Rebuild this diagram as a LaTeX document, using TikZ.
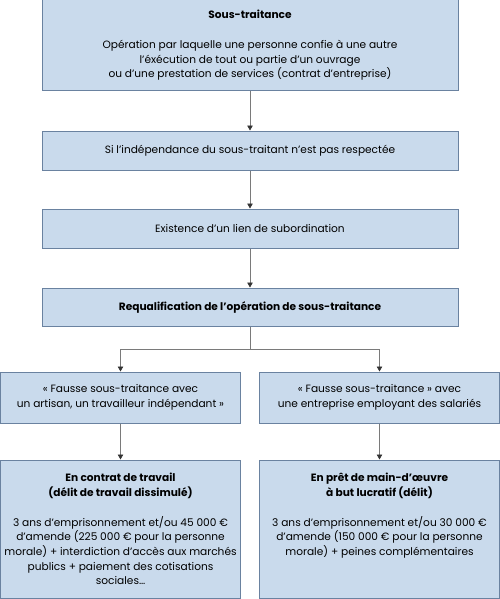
\documentclass[tikz,border=0pt]{standalone}
\usepackage{fontspec}
\setmainfont{Poppins}
\usetikzlibrary{arrows.meta,positioning,calc}
\definecolor{boxfill}{HTML}{C9DAEC}
\definecolor{boxline}{HTML}{6A82A0}
\definecolor{linkgray}{HTML}{7A7A7A}

\begin{document}
\begin{tikzpicture}[x=1pt,y=-1pt,
    box/.style={draw=boxline, fill=boxfill, line width=1pt, align=center, inner sep=0pt,
        font=\fontsize{10.6}{14.7}\selectfont},
    wide/.style={box, minimum width=416pt},
    half/.style={box, minimum width=240pt},
    link/.style={draw=linkgray, line width=0.7pt, -{Triangle[length=5pt,width=5.5pt,color=black!80,fill=black!80]}}]
    \useasboundingbox (0,0) rectangle (500,599);

    % Main column
    \node[wide, minimum height=91pt] (sous) at (250,45.5) {\textbf{Sous-traitance}\\[14.7pt]
        Opération par laquelle une personne confie à une autre\\
        l’éxécution de tout ou partie d’un ouvrage\\
        ou d’une prestation de services (contrat d’entreprise)};
    \node[wide, minimum height=39pt] (indep) at (250,150.5) {Si l’indépendance du sous-traitant n’est pas respectée};
    \node[wide, minimum height=39pt] (lien) at (250,228.5) {Existence d’un lien de subordination};
    \node[wide, minimum height=38pt] (requal) at (250,307) {\textbf{Requalification de l’opération de sous-traitance}};

    % Two cases
    \node[half, minimum height=51pt] (artisan) at (120.5,397.5) {« Fausse sous-traitance avec\\
        un artisan, un travailleur indépendant »};
    \node[half, minimum height=51pt] (salaries) at (379.5,397.5) {« Fausse sous-traitance » avec\\
        une entreprise employant des salariés};

    % Sanctions
    \node[half, minimum height=138pt] (contrat) at (120.5,529) {\parbox[c][111pt][t]{236pt}{\centering
        \textbf{En contrat de travail}\\
        \textbf{(délit de travail dissimulé)}\\[14.7pt]
        3 ans d’emprisonnement et/ou 45~000~€\\
        d’amende (225~000~€ pour la personne\\
        morale) + interdiction d’accès aux marchés\\
        publics + paiement des cotisations\\
        sociales…}};
    \node[half, minimum height=138pt] (pret) at (379.5,529) {\parbox[c][111pt][t]{236pt}{\centering
        \textbf{En prêt de main-d’œuvre}\\
        \textbf{à but lucratif (délit)}\\[14.7pt]
        3 ans d’emprisonnement et/ou 30~000~€\\
        d’amende (150~000~€ pour la personne\\
        morale) + peines complémentaires}};

    % Arrows
    \draw[link] (sous) -- (indep);
    \draw[link] (indep) -- (lien);
    \draw[link] (lien) -- (requal);
    \coordinate (split) at ($(requal.south)+(0,23)$);
    \draw[draw=linkgray, line width=0.7pt] (requal.south) -- (split);
    \draw[link] (split) -| (artisan.north);
    \draw[link] (split) -| (salaries.north);
    \draw[link] (artisan) -- (contrat);
    \draw[link] (salaries) -- (pret);
\end{tikzpicture}
\end{document}
